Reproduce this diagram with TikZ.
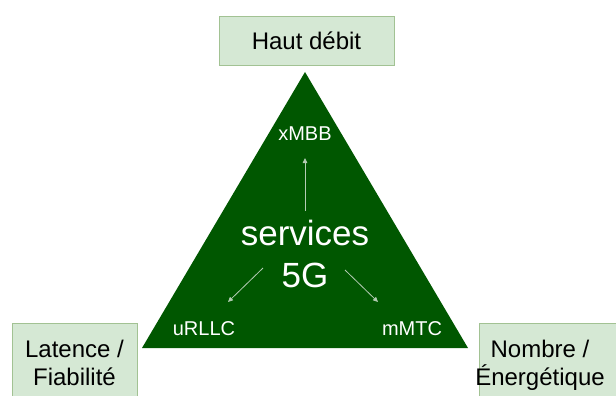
\documentclass[tikz,border=0pt]{standalone}
\usepackage{fontspec}
\setmainfont{Liberation Sans}
\usetikzlibrary{arrows.meta}
\definecolor{boxfill}{HTML}{D5E8D4}
\definecolor{boxline}{HTML}{A2C293}
\definecolor{trigreen}{HTML}{005700}
\definecolor{linkgrey}{HTML}{B4CCB4}

\begin{document}
\begin{tikzpicture}[x=1pt,y=-1pt,
    box/.style={fill=boxfill,draw=boxline,line width=1pt},
    lbl/.style={font=\fontsize{24}{28}\selectfont,align=center,inner sep=0pt,anchor=base},
    svc/.style={text=white,font=\fontsize{20}{24}\selectfont,inner sep=0pt,anchor=base},
    link/.style={draw=linkgrey,line width=0.8pt,-{Triangle[length=5pt,width=4.5pt]}}]
    \useasboundingbox (0,0) rectangle (616,396);
    \clip (0,0) rectangle (616,396);

    \draw[box] (219,17) rectangle (394,66);
    \draw[box] (12,323) rectangle (137,410);
    \draw[box] (479,323) rectangle (640,410);
    \fill[trigreen] (305,72) -- (468,348) -- (142,348) -- cycle;

    \node[lbl] (haut) at (306.5,50) {Haut débit};
    \node[lbl] (latence) at (74.5,385) {Latence /\\Fiabilité};
    \node[lbl] (nombre) at (540,385) {Nombre /\\Énergétique};

    \node[svc,font=\fontsize{35}{42}\selectfont,align=center] (core) at (305,287) {services\\5G};
    \node[svc] (xmbb) at (305,140) {xMBB};
    \node[svc] (urllc) at (204,335) {uRLLC};
    \node[svc] (mmtc) at (412,335) {mMTC};

    \coordinate (up0) at (305,211);
    \coordinate (up1) at (305,158);
    \coordinate (lf0) at (263,268);
    \coordinate (lf1) at (228,302);
    \coordinate (rt0) at (345,270);
    \coordinate (rt1) at (378,302);
    \draw[link] (up0) -- (up1);
    \draw[link] (lf0) -- (lf1);
    \draw[link] (rt0) -- (rt1);
\end{tikzpicture}
\end{document}
